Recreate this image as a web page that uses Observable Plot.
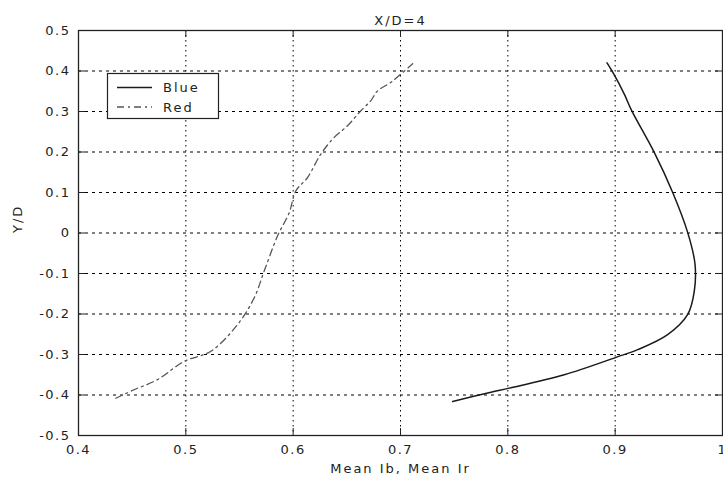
<!DOCTYPE html>
<html><head><meta charset="utf-8">
<script src="https://cdn.jsdelivr.net/npm/d3@7"></script>
<script src="https://cdn.jsdelivr.net/npm/@observablehq/plot@0.6"></script>
<style>
body{margin:0;background:#fff}
#chart{position:relative;width:723px;height:482px;overflow:hidden}
#chart svg text{letter-spacing:1.5px}
#chart svg .lbl text{letter-spacing:2px}
</style>
</head><body><div id="chart"></div>
<script>
const blueX = [0.8924,0.8977,0.9085,0.9154,0.9364,0.9536,0.9676,0.9744,0.9737,0.9676,0.9489,0.9210,0.9008,0.8526,0.8013,0.7843,0.7486];
const blueY = [0.420,0.397,0.343,0.302,0.199,0.100,0.001,-0.077,-0.144,-0.201,-0.251,-0.288,-0.307,-0.350,-0.383,-0.393,-0.416];
const redX = [0.4348,0.4518,0.4736,0.4984,0.5233,0.5482,0.5637,0.5730,0.5855,0.5963,0.6025,0.6134,0.6258,0.6382,0.6507,0.6631,0.6724,0.6787,0.6911,0.7113];
const redY = [-0.408,-0.387,-0.362,-0.317,-0.292,-0.226,-0.160,-0.094,-0.007,0.050,0.104,0.137,0.195,0.236,0.265,0.302,0.327,0.351,0.372,0.418];
const xTicks = [0.4,0.5,0.6,0.7,0.8,0.9,1];
const xTickLabels = ["0.4","0.5","0.6","0.7","0.8","0.9","1"];
const yTicks = [-0.5,-0.4,-0.3,-0.2,-0.1,0,0.1,0.2,0.3,0.4,0.5];
const yTickLabels = ["-0.5","-0.4","-0.3","-0.2","-0.1","0","0.1","0.2","0.3","0.4","0.5"];
const seriesNames = ["Blue","Red"];
const titleText = "X/D=4";
const xLabelText = "Mean Ib, Mean Ir";
const yLabelText = "Y/D";

const W = 723, H = 482, mL = 78, mR = 1, mT = 30, mB = 47;
const plotW = W - mL - mR, plotH = H - mT - mB;
const tickLen = 7;

const blue = blueX.map((x,i)=>({x, y: blueY[i]}));
const red = redX.map((x,i)=>({x, y: redY[i]}));
const xInner = xTicks.slice(1,-1);
const yInner = yTicks.slice(1,-1);

const chart = Plot.plot({
  width: W, height: H,
  marginLeft: mL, marginRight: mR, marginTop: mT, marginBottom: mB,
  style: {fontFamily: "DejaVu Sans", fontSize: "13px", color: "#222", background: "#fff"},
  x: {domain: [0.4, 1], label: null},
  y: {domain: [-0.5, 0.5], label: null},
  marks: [
    Plot.gridX(xInner, {stroke: "#000", strokeOpacity: 1, strokeDasharray: "1.5,3.5", strokeWidth: 1}),
    Plot.gridY(yInner, {stroke: "#000", strokeOpacity: 1, strokeDasharray: "3,4", strokeWidth: 1}),
    Plot.tickX(xInner, {x: d=>d, insetTop: plotH - tickLen, stroke: "#222"}),
    Plot.tickX(xInner, {x: d=>d, insetBottom: plotH - tickLen, stroke: "#222"}),
    Plot.tickY(yInner, {y: d=>d, insetRight: plotW - tickLen, stroke: "#222"}),
    Plot.tickY(yInner, {y: d=>d, insetLeft: plotW - tickLen, stroke: "#222"}),
    Plot.line(red, {x: "x", y: "y", stroke: "#555", strokeWidth: 1.3, strokeDasharray: "7,4,2,4", curve: "catmull-rom"}),
    Plot.line(blue, {x: "x", y: "y", stroke: "#1a1a1a", strokeWidth: 1.5, curve: "catmull-rom"}),
    Plot.frame({stroke: "#222", strokeWidth: 1.3}),
    Plot.axisX(xTicks, {tickSize: 0, tickPadding: 9, tickFormat: d => xTickLabels[xTicks.indexOf(d)], fill: "#222"}),
    Plot.axisY(yTicks, {tickSize: 0, tickPadding: 8, tickFormat: d => yTickLabels[yTicks.indexOf(d)], fill: "#222"}),
    Plot.text([titleText], {text: d=>d, frameAnchor: "top", dy: -15, fill: "#222", className: "lbl"}),
    Plot.text([xLabelText], {text: d=>d, frameAnchor: "bottom", dy: 37, fill: "#222", className: "lbl"}),
    Plot.text([yLabelText], {text: d=>d, frameAnchor: "left", dx: -61, rotate: -90, fill: "#222", className: "lbl"})
  ]
});
document.getElementById("chart").appendChild(chart);

// legend box (MATLAB style, upper left inside axes)
const svg = d3.select(chart);
const lg = svg.append("g").attr("class", "lbl");
lg.append("rect").attr("x", 107.5).attr("y", 73.5).attr("width", 111).attr("height", 45)
  .attr("fill", "#fff").attr("stroke", "#222").attr("stroke-width", 1.2);
const styles = [{stroke:"#1a1a1a", dash:null, w:1.5}, {stroke:"#555", dash:"7,4,2,4", w:1.3}];
seriesNames.forEach((name, i) => {
  const yy = 87.5 + i * 19.5;
  lg.append("line").attr("x1", 117).attr("x2", 152).attr("y1", yy).attr("y2", yy)
    .attr("stroke", styles[i].stroke).attr("stroke-width", styles[i].w)
    .attr("stroke-dasharray", styles[i].dash);
  lg.append("text").attr("x", 163).attr("y", yy).attr("dy", "0.35em")
    .attr("text-anchor", "start")
    .attr("fill", "#222").attr("font-size", 13).text(name);
});
</script>
</body></html>
